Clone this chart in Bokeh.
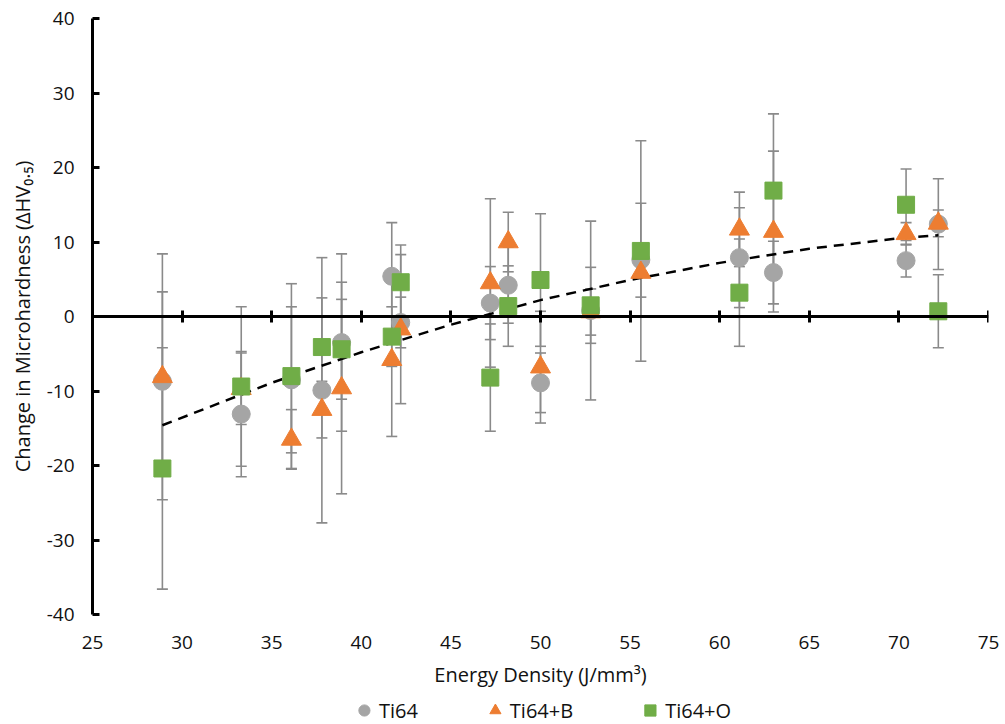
from bokeh.plotting import figure
from bokeh.layouts import column
from bokeh.models import (ColumnDataSource, Range1d, LinearAxis, FixedTicker, Whisker, TeeHead,
                          Legend, LegendItem, CustomJSTickFormatter)
from bokeh.embed import file_html
from bokeh.resources import INLINE

# ---- data ----
energy = [28.9, 33.3, 36.1, 37.8, 38.9, 41.7, 42.2, 47.2, 48.2, 50.0, 52.8, 55.6, 61.1, 63.0, 70.4, 72.2]

ti64 = [-8.7, -13.1, -8.5, -9.9, -3.5, 5.4, -0.8, 1.8, 4.2, -8.9, 0.8, 7.6, 7.9, 5.9, 7.5, 12.4]
ti64_err = [12.0, 8.4, 9.8, 17.8, 11.9, 7.2, 3.4, 4.9, 5.1, 4.0, 12.0, 7.6, 6.7, 4.2, 2.2, 6.1]

ti64b = [-8.1, -9.7, -16.5, -12.5, -9.6, -5.8, -1.7, 4.5, 10.0, -6.8, 0.6, 5.9, 11.7, 11.4, 11.1, 12.5]
ti64b_err = [16.5, 4.8, 4.0, 3.8, 14.2, 10.3, 10.0, 11.3, 4.0, 7.5, 3.1, 3.3, 5.0, 10.8, 1.5, 1.8]

ti64o = [-20.4, -9.4, -8.0, -4.1, -4.4, -2.7, 4.6, -8.2, 1.4, 4.9, 1.5, 8.8, 3.2, 16.9, 15.0, 0.7]
ti64o_err = [16.2, 10.7, 12.4, 6.6, 6.7, 4.0, 5.0, 7.2, 5.4, 8.9, 5.1, 14.8, 7.2, 10.3, 4.8, 4.9]

# trend line
trend_x = [28.9, 35, 40, 45, 50, 55, 60, 65, 70, 72.2]
trend_y = [-14.6, -8.9, -4.8, -1.1, 2.2, 4.9, 7.2, 9.1, 10.5, 10.9]

x_ticks = [25, 30, 35, 40, 45, 50, 55, 60, 65, 70, 75]
y_ticks = [-40, -30, -20, -10, 0, 10, 20, 30, 40]

series_names = ["Ti64", "Ti64+B", "Ti64+O"]
series_colors = ["#A5A5A5", "#ED7D31", "#70AD47"]
series_markers = ["circle", "triangle", "square"]
FONT = "Open Sans"
TXT = "#111111"
plain_fmt = "return tick.toString();"

p = figure(width=1005, height=696, output_backend="svg", toolbar_location=None,
           x_range=Range1d(25, 75), y_range=Range1d(-40, 40),
           x_axis_location=None, y_axis_location=None,
           min_border_left=92, min_border_right=17, min_border_top=18, min_border_bottom=82)
p.outline_line_color = None
p.xgrid.visible = False
p.ygrid.visible = False
p.background_fill_color = "white"
p.border_fill_color = "white"

# Y axis
yax = LinearAxis(ticker=FixedTicker(ticks=y_ticks), axis_label="Change in Microhardness (ΔHV₀.₅)",
                 formatter=CustomJSTickFormatter(code=plain_fmt))
yax.axis_line_width = 3
yax.axis_line_color = "black"
yax.major_tick_line_width = 3
yax.major_tick_in = 7
yax.major_tick_out = 0
yax.minor_tick_line_color = None
yax.major_label_text_font = FONT
yax.major_label_text_font_size = "19px"
yax.major_label_text_color = TXT
yax.major_label_standoff = 18
yax.axis_label_text_font = FONT
yax.axis_label_text_font_size = "20px"
yax.axis_label_text_font_style = "normal"
yax.axis_label_text_color = TXT
yax.axis_label_standoff = 8
p.add_layout(yax, "left")

# X axis line drawn at y = 0
x0ax = LinearAxis(ticker=FixedTicker(ticks=x_ticks), fixed_location=0,
                  formatter=CustomJSTickFormatter(code="return '';"))
x0ax.axis_line_width = 3
x0ax.axis_line_color = "black"
x0ax.major_tick_line_width = 3
x0ax.major_tick_in = 6
x0ax.major_tick_out = 6
x0ax.minor_tick_line_color = None
p.add_layout(x0ax, "below")

# X labels at the bottom
xax = LinearAxis(ticker=FixedTicker(ticks=x_ticks), axis_label="Energy Density (J/mm³)",
                 formatter=CustomJSTickFormatter(code=plain_fmt))
xax.axis_line_color = None
xax.major_tick_line_color = None
xax.minor_tick_line_color = None
xax.major_tick_in = 0
xax.major_tick_out = 0
xax.minor_tick_in = 0
xax.minor_tick_out = 0
xax.major_label_text_font = FONT
xax.major_label_text_font_size = "19px"
xax.major_label_text_color = TXT
xax.major_label_standoff = 21
xax.axis_label_text_font = FONT
xax.axis_label_text_font_size = "20px"
xax.axis_label_text_font_style = "normal"
xax.axis_label_text_color = TXT
xax.axis_label_standoff = 9
p.add_layout(xax, "below")

# error bars
ERR_COLOR = "#8a8a8a"
for vals, errs in [(ti64, ti64_err), (ti64b, ti64b_err), (ti64o, ti64o_err)]:
    src = ColumnDataSource(dict(x=energy,
                                upper=[v + e for v, e in zip(vals, errs)],
                                lower=[v - e for v, e in zip(vals, errs)]))
    w = Whisker(base="x", upper="upper", lower="lower", source=src, dimension="height",
                line_color=ERR_COLOR, line_width=1.6,
                upper_head=TeeHead(size=11, line_color=ERR_COLOR, line_width=1.6),
                lower_head=TeeHead(size=11, line_color=ERR_COLOR, line_width=1.6))
    p.add_layout(w)

# trend line
p.line(trend_x, trend_y, line_color="black", line_width=2.5, line_dash="10 7")

# markers
sizes = [18, 20, 17]
for vals, mk, col, sz in zip([ti64, ti64b, ti64o], series_markers, series_colors, sizes):
    p.scatter(energy, vals, marker=mk, size=sz, fill_color=col, line_color=col)

# legend strip below the chart (placeholder renderers hold only NaN, so nothing is plotted)
lf = figure(width=1005, height=28, output_backend="svg", toolbar_location=None,
            x_axis_location=None, y_axis_location=None, min_border=0,
            x_range=Range1d(0, 1), y_range=Range1d(0, 1))
lf.outline_line_color = None
lf.xgrid.visible = False
lf.ygrid.visible = False
items = []
for name, mk, col in zip(series_names, series_markers, series_colors):
    r = lf.scatter(x=[float("nan")], y=[float("nan")], marker=mk, size=12,
                   fill_color=col, line_color=col)
    items.append(LegendItem(label=name, renderers=[r]))
legend = Legend(items=items, orientation="horizontal", location="center",
                label_text_font=FONT, label_text_font_size="20px", label_text_color=TXT,
                glyph_width=30, glyph_height=28, label_height=28, label_standoff=0, spacing=62,
                padding=0, margin=0, border_line_color=None, background_fill_alpha=0)
lf.add_layout(legend, "center")

layout = column(p, lf, spacing=0)
open("out.html", "w").write(file_html(layout, INLINE))
